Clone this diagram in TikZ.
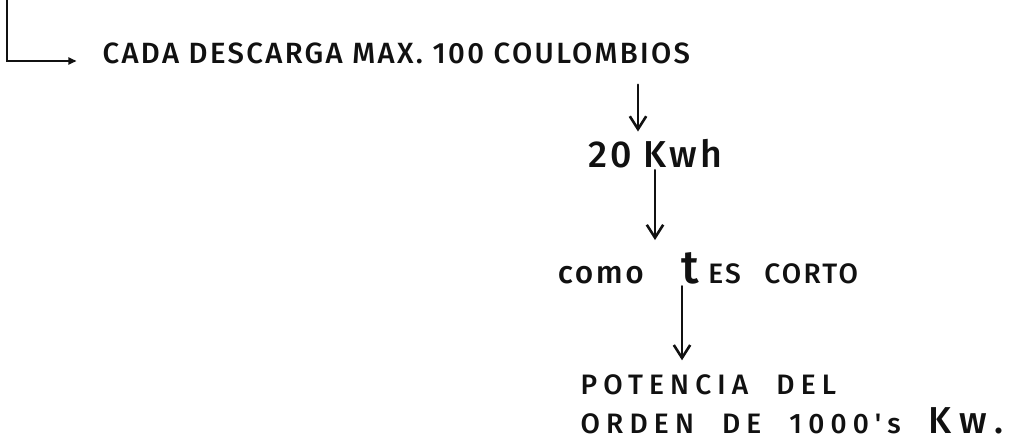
\documentclass[tikz,border=0pt]{standalone}
\usepackage{fontspec}
\setmainfont{Fira Sans}
\newfontfamily\hand[LetterSpace=8, BoldFont={Fira Sans Medium}]{Fira Sans}
\newfontfamily\wide[LetterSpace=22, BoldFont={Fira Sans Medium}]{Fira Sans}
\usepackage{xcolor}
\definecolor{ink}{HTML}{111111}
\usetikzlibrary{arrows.meta, positioning, calc}

\begin{document}
\begin{tikzpicture}[
    x=0.03cm, y=-0.03cm,
    every node/.style={text=ink, inner sep=2pt},
    line/.style={draw=ink, line width=2.2pt, line cap=round},
    flow/.style={line, -{Straight Barb[length=11pt,width=14pt]}},
    small/.style={font=\hand\bfseries\fontsize{25}{29}\selectfont},
    large/.style={font=\hand\bfseries\fontsize{32}{36}\selectfont},
    plain/.style={font=\wide\bfseries\fontsize{24}{33}\selectfont}
]
\useasboundingbox (0,0) rectangle (1022,446);
% Top line
\node[small, anchor=base west] (head) at (100,63) {CADA DESCARGA MAX. 100 COULOMBIOS};
\coordinate (top) at (7,0);
\coordinate (corner) at (7,61);
% Chain
\node[large, anchor=base] (kwh) at (655,167) {20 Kwh};
\node[small, anchor=base] (cmo) at (708,283) {{\fontsize{27}{27}\selectfont como}\hspace{32pt}%
  {\fontsize{40}{40}\selectfont t}\hspace{8pt}{\fontsize{24}{24}\selectfont ES\hspace{20pt}CORTO}};
\node[plain, anchor=north west, align=left] (pot) at (578,372)
  {POTENCIA\quad DEL\\ORDEN\quad DE\quad 1000's\quad{\fontsize{32}{32}\selectfont Kw.}};
% Arrow columns
\coordinate (c1) at (638,0);
\coordinate (c2) at (655,0);
\coordinate (c3) at (682,0);
% Edges
\draw[line, -{Triangle[length=7pt,width=6pt]}, shorten >=20] (top) -- (corner) -- (corner -| head.west);
\draw[flow] ([yshift=-16pt]c1 |- head.south) -- ([yshift=4pt]c1 |- kwh.north);
\draw[flow] (c2 |- kwh.south) -- ([yshift=8pt]c2 |- cmo.north);
\draw[flow] (c3 |- cmo.south) -- ([yshift=10pt]c3 |- pot.north);
\end{tikzpicture}
\end{document}
